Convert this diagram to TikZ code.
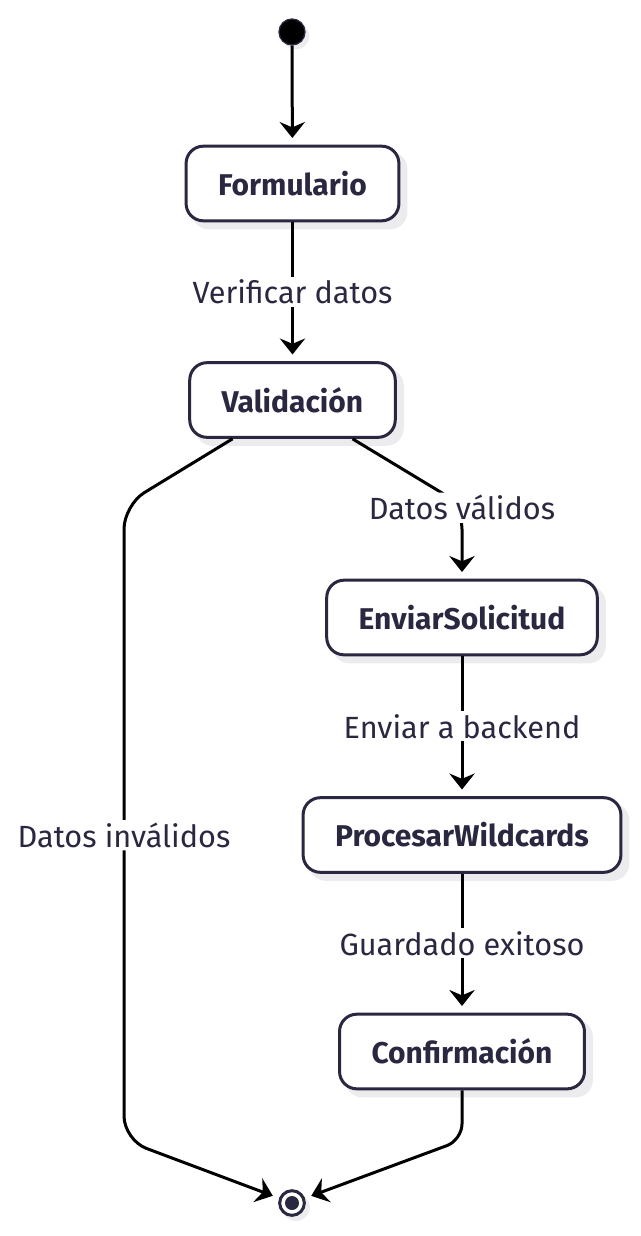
\documentclass[tikz,border=0pt]{standalone}
\usepackage{fontspec}
\setmainfont{Fira Sans}
\usepackage{tikz}
\usetikzlibrary{arrows.meta,calc,backgrounds}
\definecolor{stateline}{RGB}{42,40,64}
\definecolor{shadowgray}{RGB}{236,236,238}

\tikzset{
  state/.style={draw=stateline, line width=2.25pt, rounded corners=13pt, fill=white,
    text=stateline, font=\fontsize{22.5}{27}\selectfont\bfseries, minimum height=56pt,
    inner xsep=24pt},
  trans/.style={line width=2.25pt, -{Stealth[length=12pt,width=19pt,inset=4pt]}, shorten >=5pt},
  translabel/.style={fill=white, text=stateline, font=\fontsize{23}{27}\selectfont, inner sep=2pt},
}

\begin{document}
\begin{tikzpicture}[x=0.75pt,y=0.75pt,yscale=-1,xscale=1]
  \useasboundingbox (0,0) rectangle (640,1236);

  % initial and final states
  \node (start) [circle, fill=black, draw=stateline, line width=1pt, minimum size=19.5pt, inner sep=0pt] at (292,32) {};
  \node (endst) [circle, fill=white, draw=stateline, line width=2.25pt, minimum size=18.5pt, inner sep=0pt] at (292,1203) {};
  \fill[stateline] (endst.center) circle (5.25pt);

  % states
  \node (form)  [state] at (292.5,183.5) {Formulario};
  \node (valid) [state] at (292.5,400)   {Validación};
  \node (envia) [state] at (462,617.5)   {EnviarSolicitud};
  \node (proc)  [state] at (462,835)     {ProcesarWildcards};
  \node (conf)  [state] at (462,1051.5)  {Confirmación};

  % shadows
  \begin{scope}[on background layer]
    \foreach \n in {form,valid,envia,proc,conf}
      \fill[shadowgray, rounded corners=13pt] ($(\n.south west)+(7,7)$) rectangle ($(\n.north east)+(7,7)$);
    \fill[shadowgray] ($(start)+(4,4)$) circle (10pt);
    \fill[shadowgray] ($(endst)+(4,4)$) circle (10.5pt);
  \end{scope}

  % transitions
  \draw[trans] (start) -- (form);
  \draw[trans] (form) -- node[translabel] {Verificar datos} (valid);
  \draw[trans, rounded corners=18pt] ([xshift=45pt]valid.south) -- (462,505)
    node[translabel, yshift=-2pt] {Datos válidos} -- (envia);
  \draw[trans] (envia) -- node[translabel] {Enviar a backend} (proc);
  \draw[trans] (proc) -- node[translabel] {Guardado exitoso} (conf);
  \draw[trans, rounded corners=18pt] ([xshift=-45pt]valid.south) -- (124,505)
    -- node[translabel, pos=0.52] {Datos inválidos} (124,1140) [rounded corners=12pt] -- (endst);
  \draw[trans, rounded corners=12pt] (conf) -- (462,1140) -- (endst);
\end{tikzpicture}
\end{document}
